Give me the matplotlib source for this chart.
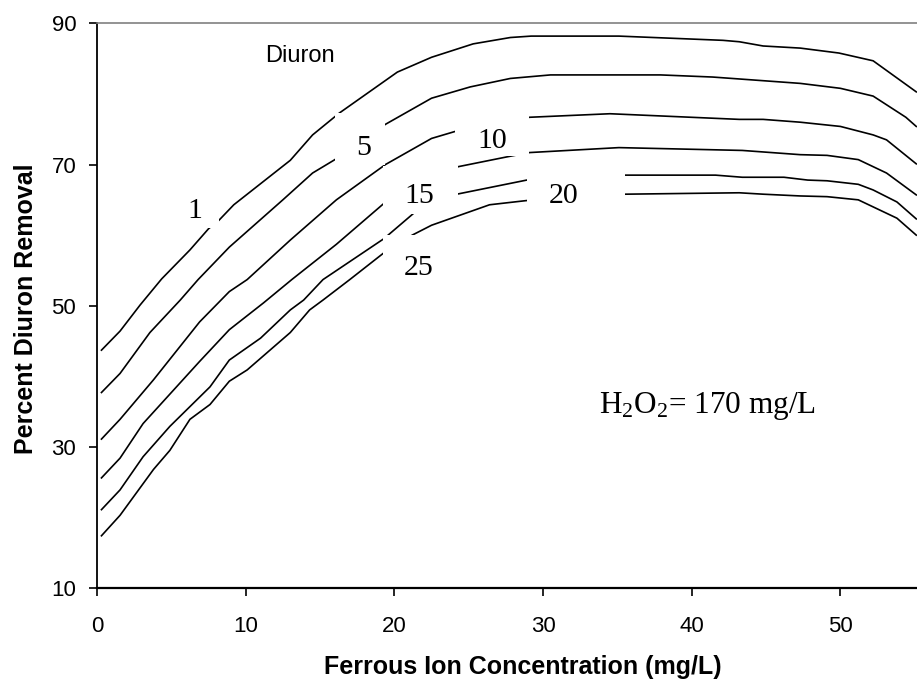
import matplotlib
matplotlib.use('Agg')
import matplotlib.pyplot as plt
from matplotlib.patches import Rectangle

# curves for each series label
conc_1 = [0.3, 1.55, 2.9, 4.35, 6.25, 7.5, 8.2, 9.2, 13.0, 14.5, 16.3, 20.2, 22.5, 25.3,
          27.8, 29.2, 35.1, 42.1, 43.2, 44.8, 47.3, 49.9, 52.2, 55.1]
rem_1 = [43.7, 46.4, 50.1, 53.8, 57.9, 60.9, 62.1, 64.3, 70.6, 74.2, 77.3, 83.1, 85.2, 87.1,
         88.0, 88.2, 88.2, 87.6, 87.4, 86.8, 86.5, 85.8, 84.7, 80.3]

conc_5 = [0.3, 1.55, 3.56, 5.6, 6.8, 8.9, 12.5, 14.5, 16.0, 19.4, 22.5, 25.1, 27.8, 30.5,
          37.9, 41.4, 47.3, 50.0, 52.2, 54.4, 55.1]
rem_5 = [37.7, 40.4, 46.2, 50.8, 53.7, 58.3, 65.0, 68.8, 70.7, 75.7, 79.4, 81.0, 82.2, 82.7,
         82.7, 82.4, 81.5, 80.8, 79.7, 76.7, 75.4]

conc_10 = [0.3, 1.55, 3.8, 6.9, 8.9, 10.1, 13.0, 16.1, 19.4, 22.5, 24.1, 29.1, 34.5, 43.2,
           44.8, 47.3, 50.0, 52.2, 53.1, 55.1]
rem_10 = [31.1, 33.9, 39.5, 47.7, 52.0, 53.7, 59.3, 65.0, 70.0, 73.7, 74.7, 76.7, 77.2, 76.4,
          76.4, 76.0, 75.4, 74.2, 73.5, 70.1]

conc_15 = [0.3, 1.55, 3.1, 6.9, 8.9, 11.2, 13.1, 16.1, 19.3, 24.3, 27.6, 29.1, 35.1, 43.4,
           47.3, 49.1, 51.2, 53.1, 55.1]
rem_15 = [25.6, 28.4, 33.3, 42.1, 46.6, 50.4, 53.7, 58.7, 64.5, 69.7, 71.1, 71.7, 72.4, 72.0,
          71.4, 71.3, 70.7, 68.8, 65.7]

conc_20 = [0.3, 1.55, 3.1, 4.9, 7.6, 8.9, 11.0, 13.0, 13.9, 15.2, 19.3, 21.3, 24.2, 28.9,
           35.5, 41.6, 43.4, 46.2, 47.8, 49.1, 51.2, 52.2, 53.8, 55.1]
rem_20 = [21.1, 23.9, 28.6, 32.9, 38.5, 42.3, 45.4, 49.4, 50.8, 53.7, 59.5, 63.1, 65.8, 67.8,
          68.5, 68.5, 68.2, 68.2, 67.8, 67.7, 67.2, 66.4, 64.7, 62.3]

conc_25 = [0.3, 1.55, 3.8, 4.9, 6.25, 7.6, 8.9, 10.1, 13.0, 14.3, 15.2, 17.0, 19.3, 21.2,
           22.5, 26.4, 28.9, 35.5, 43.2, 44.8, 47.3, 49.1, 51.2, 53.8, 55.1]
rem_25 = [17.4, 20.3, 26.8, 29.5, 33.9, 36.0, 39.3, 40.9, 46.2, 49.4, 50.8, 53.7, 57.5, 60.0,
          61.4, 64.3, 64.9, 65.8, 66.0, 65.8, 65.55, 65.45, 65.0, 62.4, 60.0]

curves = [(conc_1, rem_1), (conc_5, rem_5), (conc_10, rem_10),
          (conc_15, rem_15), (conc_20, rem_20), (conc_25, rem_25)]

# inline labels: text, x, baseline y, white gap box (x0, x1, y0, y1)
labels = [('1', 6.6, 62.4, (6.2, 8.2, 61.0, 67.0)),
          ('5', 17.9, 71.4, (16.0, 19.4, 69.95, 77.3)),
          ('10', 26.6, 72.3, (24.1, 29.05, 71.15, 77.2)),
          ('15', 21.65, 64.5, (19.26, 24.25, 63.0, 69.75)),
          ('20', 31.35, 64.5, (28.95, 35.5, 64.0, 70.5)),
          ('25', 21.65, 54.4, (19.25, 23.6, 53.0, 59.95))]

plt.rcParams['font.family'] = 'Liberation Sans'
plt.rcParams['mathtext.fontset'] = 'custom'
plt.rcParams['mathtext.rm'] = 'Liberation Serif'
plt.rcParams['mathtext.it'] = 'Liberation Serif:italic'

fig = plt.figure(figsize=(9.17, 6.81), dpi=100, facecolor='white')
ax = fig.add_axes([97 / 917, 1 - 588 / 681, 1 - 97 / 917, (588 - 23.4) / 681])

for xs, ys in curves:
    ax.plot(xs, ys, color='black', lw=1.2, zorder=2)

for txt, lx, ly, (x0, x1, y0, y1) in labels:
    ax.add_patch(Rectangle((x0, y0), x1 - x0, y1 - y0, facecolor='white',
                           edgecolor='none', zorder=3))
    ax.text(lx, ly, txt, family='Liberation Serif', fontsize=21.5,
            ha='center', va='baseline', zorder=4)

ax.text(13.65, 84.6, 'Diuron', fontsize=17, ha='center', va='baseline')
ax.text(41.07, 34.8, 'H$_2$O$_2$= 170 mg/L', family='Liberation Serif',
        fontsize=22.5, ha='center', va='baseline')

ax.set_xlim(0, 55.15)
ax.set_ylim(10, 90)
ax.set_xticks([0, 10, 20, 30, 40, 50])
ax.set_yticks([10, 30, 50, 70, 90])
ax.tick_params(axis='both', direction='out', length=6, width=1.2, labelsize=16)
ax.tick_params(axis='x', pad=14)
ax.tick_params(axis='y', pad=9)

ax.spines['right'].set_visible(False)
ax.spines['top'].set_color('#808080')
ax.spines['top'].set_linewidth(1.2)
ax.spines['left'].set_linewidth(1.3)
ax.spines['bottom'].set_linewidth(1.6)

ax.set_xlabel('Ferrous Ion Concentration (mg/L)', fontsize=18, fontweight='bold')
ax.set_ylabel('Percent Diuron Removal', fontsize=18, fontweight='bold')
ax.xaxis.set_label_coords((523 - 97) / 820, -0.118)
ax.yaxis.set_label_coords(-0.072, 0.495)

fig.savefig('out.png', dpi=100, facecolor='white')
